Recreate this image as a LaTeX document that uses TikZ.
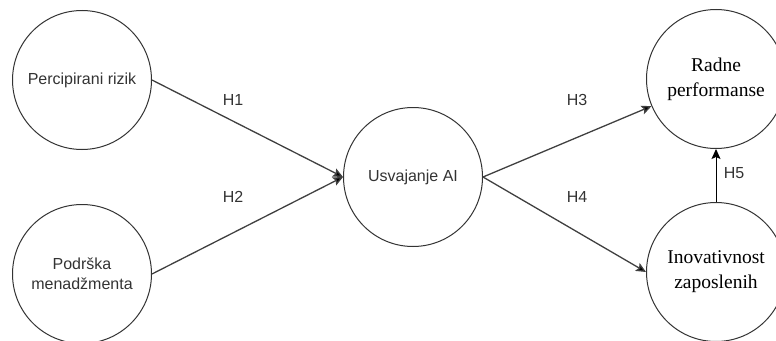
\documentclass[tikz,border=0pt]{standalone}
\usepackage{fontspec}
\newfontfamily\sansf{Liberation Sans}
\newfontfamily\seriff{Liberation Serif}
\usetikzlibrary{arrows.meta}

\begin{document}
\begin{tikzpicture}[x=1pt,y=-1pt,
  konstrukt/.style={circle,draw=black!80,line width=1pt,minimum size=139pt,inner sep=0pt,align=center},
  sanstxt/.style={font=\sansf\fontsize{16}{20}\selectfont,text=black!80},
  seriftxt/.style={font=\seriff\fontsize{19.5}{25}\selectfont,text=black},
  veza/.style={draw=black!75,line width=1.3pt,-{Stealth[length=10pt,width=9pt,inset=2pt,fill=black]}},
  hipoteza/.style={font=\sansf\fontsize{16}{20}\selectfont,text=black!80}]

\useasboundingbox (0,0) rectangle (776,340);

\node[konstrukt,sanstxt] (rizik) at (82,80) {Percipirani rizik};
\node[konstrukt,sanstxt] (podrska) at (82,274) {Podrška\\menadžmenta};
\node[konstrukt,sanstxt] (usvajanje) at (413,177) {Usvajanje AI};
\node[konstrukt,seriftxt] (radne) at (716,79) {Radne\\performanse};
\node[konstrukt,seriftxt] (inov) at (716,272) {Inovativnost\\zaposlenih};

\draw[veza] (rizik.east) -- (usvajanje.west);
\draw[veza] (podrska.east) -- (usvajanje.west);
\draw[veza] (usvajanje.east) -- (radne);
\draw[veza] (usvajanje.east) -- (inov.west);
\draw[veza,draw=black,line width=1pt] (inov.north) -- (radne.south);

\node[hipoteza] (h1) at (233,100) {H1};
\node[hipoteza] (h2) at (233,197) {H2};
\node[hipoteza] (h3) at (577,100) {H3};
\node[hipoteza] (h4) at (577,197) {H4};
\node[hipoteza] (h5) at (734,173) {H5};

\end{tikzpicture}
\end{document}
